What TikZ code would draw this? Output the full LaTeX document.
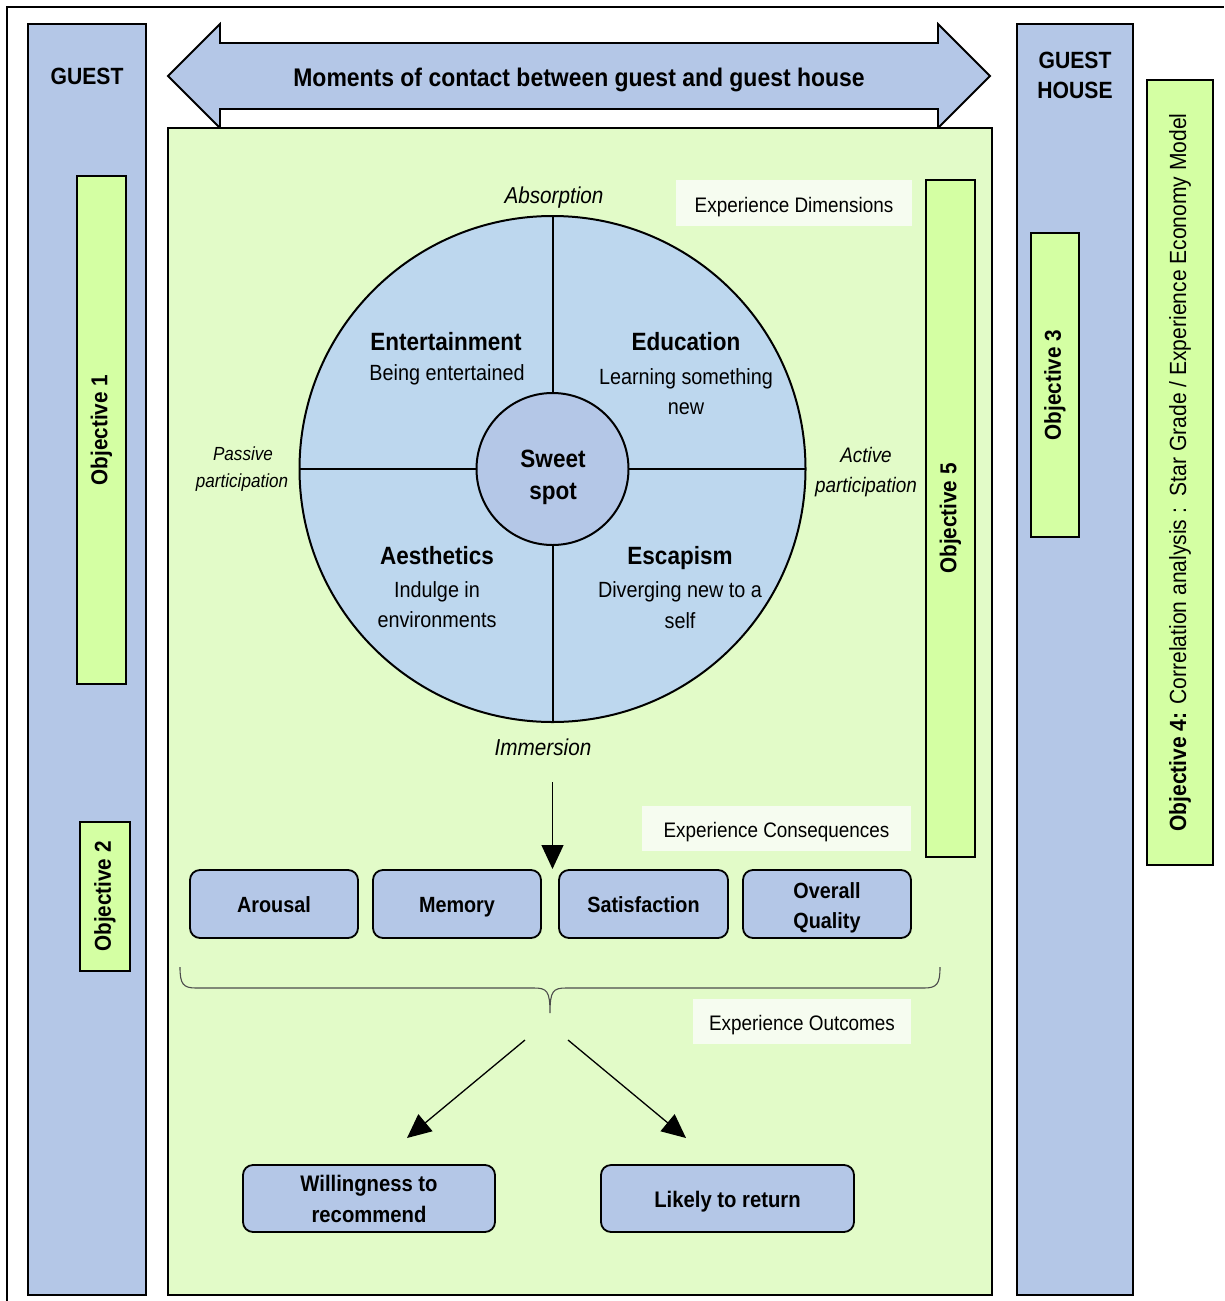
\documentclass[tikz,border=0pt]{standalone}
\usepackage{fontspec}
\setmainfont{Liberation Sans}[FakeStretch=0.9]
\usetikzlibrary{arrows.meta}

\definecolor{panelblue}{RGB}{180,199,231}
\definecolor{wheelblue}{RGB}{189,215,238}
\definecolor{fieldgreen}{RGB}{226,251,200}
\definecolor{objgreen}{RGB}{212,255,163}
\definecolor{tagwhite}{RGB}{246,252,240}

\newcommand\fsz[2]{\fontsize{#1}{#2}\selectfont}

\begin{document}
\begin{tikzpicture}[x=1pt,y=-1pt,
  panel/.style={draw=black,line width=2pt,fill=panelblue,inner sep=0pt,outer sep=0pt},
  objbox/.style={draw=black,line width=1.8pt,fill=objgreen,inner sep=0pt,outer sep=0pt,
    rotate=90,font=\bfseries\fsz{23}{28}},
  tag/.style={fill=tagwhite,inner sep=0pt,outer sep=0pt},
  tagtext/.style={anchor=base,inner sep=0pt,font=\fsz{21}{25}},
  cbox/.style={draw=black,line width=1.8pt,fill=panelblue,rounded corners=10pt,
    inner sep=0pt,outer sep=0pt},
  ctext/.style={anchor=base,inner sep=0pt,font=\bfseries\fsz{22}{31}},
  otext/.style={anchor=base,inner sep=0pt,font=\bfseries\fsz{22.5}{32}},
  headline/.style={anchor=base,inner sep=0pt,font=\bfseries\fsz{23.5}{30}},
  dimtitle/.style={anchor=base,inner sep=0pt,font=\bfseries\fsz{25}{30}},
  dimtext/.style={anchor=base,inner sep=0pt,font=\fsz{22}{26}},
  axislbl/.style={anchor=base,inner sep=0pt,font=\itshape\fsz{23}{27}},
  flow/.style={line width=1.3pt,-{Triangle[length=24pt,width=22pt]}},
]
\useasboundingbox (0,0) rectangle (1224,1301);

% outer frame
\draw[line width=2pt] (7,1301) -- (7,7) -- (1224,7);

% guest and guest house columns
\node[panel,minimum width=118,minimum height=1271] (guest) at (87,659.5) {};
\node[headline] (guestlbl) at (87,84) {GUEST};
\node[panel,minimum width=116,minimum height=1271] (house) at (1075,659.5) {};
\node[headline] (houselblA) at (1075,68) {GUEST};
\node[headline] (houselblB) at (1075,98) {HOUSE};

% objectives on the side columns
\node[objbox,minimum width=508,minimum height=49] (obj1) at (101.5,430) {Objective 1};
\node[objbox,minimum width=149,minimum height=50] (obj2) at (105,896.5) {Objective 2};
\node[objbox,minimum width=304,minimum height=48] (obj3) at (1055,385) {Objective 3};
\node[objbox,minimum width=785,minimum height=66,font=\fsz{23.4}{28}] (obj4) at (1180,472.5)
  {\textbf{Objective 4:} Correlation analysis :\ \ Star Grade / Experience Economy Model};

% double arrow of contact moments
\draw[line width=1.8pt,fill=panelblue] (168,76) -- (220,24) -- (220,43) -- (938,43) -- (938,24)
  -- (990,76) -- (938,128) -- (938,109) -- (220,109) -- (220,128) -- cycle;
\node[anchor=base,inner sep=0pt,font=\bfseries\fsz{25.5}{30}] (contact) at (579,86)
  {Moments of contact between guest and guest house};

% central field
\node[draw=black,line width=2pt,fill=fieldgreen,minimum width=824,minimum height=1167,
  inner sep=0pt,outer sep=0pt] (field) at (580,711.5) {};
\node[objbox,minimum width=677,minimum height=49] (obj5) at (950.5,518.5) {Objective 5};

% section tags
\node[tag,minimum width=236,minimum height=46] (dimtag) at (794,203) {};
\node[tagtext] (dimtagtxt) at (794,212) {Experience Dimensions};
\node[tag,minimum width=269,minimum height=45] (constag) at (776.5,828.5) {};
\node[tagtext] (constagtxt) at (776.5,837) {Experience Consequences};
\node[tag,minimum width=218,minimum height=45] (outtag) at (802,1021.5) {};
\node[tagtext] (outtagtxt) at (802,1030) {Experience Outcomes};

% experience wheel
\coordinate (hub) at (552.5,469);
\node[circle,draw=black,line width=2pt,fill=wheelblue,minimum size=506,inner sep=0pt,outer sep=0pt]
  (wheel) at (hub) {};
\draw[line width=2pt] (wheel.north) -- (wheel.south);
\draw[line width=2pt] (wheel.west) -- (wheel.east);
\node[circle,draw=black,line width=2pt,fill=panelblue,minimum size=152,inner sep=0pt,outer sep=0pt]
  (sweet) at (hub) {};
\node[dimtitle] (sweetA) at (553,467) {Sweet};
\node[dimtitle] (sweetB) at (553,499) {spot};

\node[dimtitle] (ent) at (446,350) {Entertainment};
\node[dimtext] (entd) at (447,380) {Being entertained};
\node[dimtitle] (edu) at (686,350) {Education};
\node[dimtext] (edud1) at (686,384) {Learning something};
\node[dimtext] (edud2) at (686,414) {new};
\node[dimtitle] (aes) at (437,564) {Aesthetics};
\node[dimtext] (aesd1) at (437,597) {Indulge in};
\node[dimtext] (aesd2) at (437,627) {environments};
\node[dimtitle] (esc) at (680,564) {Escapism};
\node[dimtext] (escd1) at (680,597) {Diverging new to a};
\node[dimtext] (escd2) at (680,628) {self};

% wheel axes
\node[axislbl] (absorb) at (554,203) {Absorption};
\node[axislbl] (immerse) at (543,755) {Immersion};
\node[axislbl,font=\itshape\fsz{19}{23}] (passA) at (243,460) {Passive};
\node[axislbl,font=\itshape\fsz{19}{23}] (passB) at (242,487) {participation};
\node[axislbl,font=\itshape\fsz{21}{25}] (actA) at (866,462) {Active};
\node[axislbl,font=\itshape\fsz{21}{25}] (actB) at (866,492) {participation};

% consequences
\coordinate (wheelout) at (552.5,782);
\coordinate (consin) at (552.5,869);
\draw[flow] (wheelout) -- (consin);
\node[cbox,minimum width=168,minimum height=68] (arousal) at (274,904) {};
\node[ctext] (arousaltxt) at (274,912) {Arousal};
\node[cbox,minimum width=168,minimum height=68] (memory) at (457,904) {};
\node[ctext] (memorytxt) at (457,912) {Memory};
\node[cbox,minimum width=169,minimum height=68] (satisf) at (643.5,904) {};
\node[ctext] (satisftxt) at (643.5,912) {Satisfaction};
\node[cbox,minimum width=168,minimum height=68] (quality) at (827,904) {};
\node[ctext] (qualitytxtA) at (827,898) {Overall};
\node[ctext] (qualitytxtB) at (827,928) {Quality};

% brace gathering the consequences
\coordinate (braceL) at (180,967);
\coordinate (braceTip) at (550,1013);
\coordinate (braceR) at (940,967);
\draw[line width=1.1pt,draw=black!70] (braceL) .. controls (180,984) and (183,988) .. (196,988)
  -- (534,988) .. controls (547,988) and (550,991) .. (braceTip)
  .. controls (550,991) and (553,988) .. (566,988) -- (924,988)
  .. controls (937,988) and (940,984) .. (braceR);

% outcomes
\coordinate (splitL) at (525,1040);
\coordinate (splitR) at (568,1040);
\coordinate (recin) at (407,1138);
\coordinate (retin) at (686,1138);
\draw[flow] (splitL) -- (recin);
\draw[flow] (splitR) -- (retin);
\node[cbox,minimum width=252,minimum height=67] (recommend) at (369,1198.5) {};
\node[otext] (recommendtxtA) at (369,1191) {Willingness to};
\node[otext] (recommendtxtB) at (369,1222) {recommend};
\node[cbox,minimum width=253,minimum height=67] (return) at (727.5,1198.5) {};
\node[otext] (returntxt) at (727.5,1207) {Likely to return};
\end{tikzpicture}
\end{document}
